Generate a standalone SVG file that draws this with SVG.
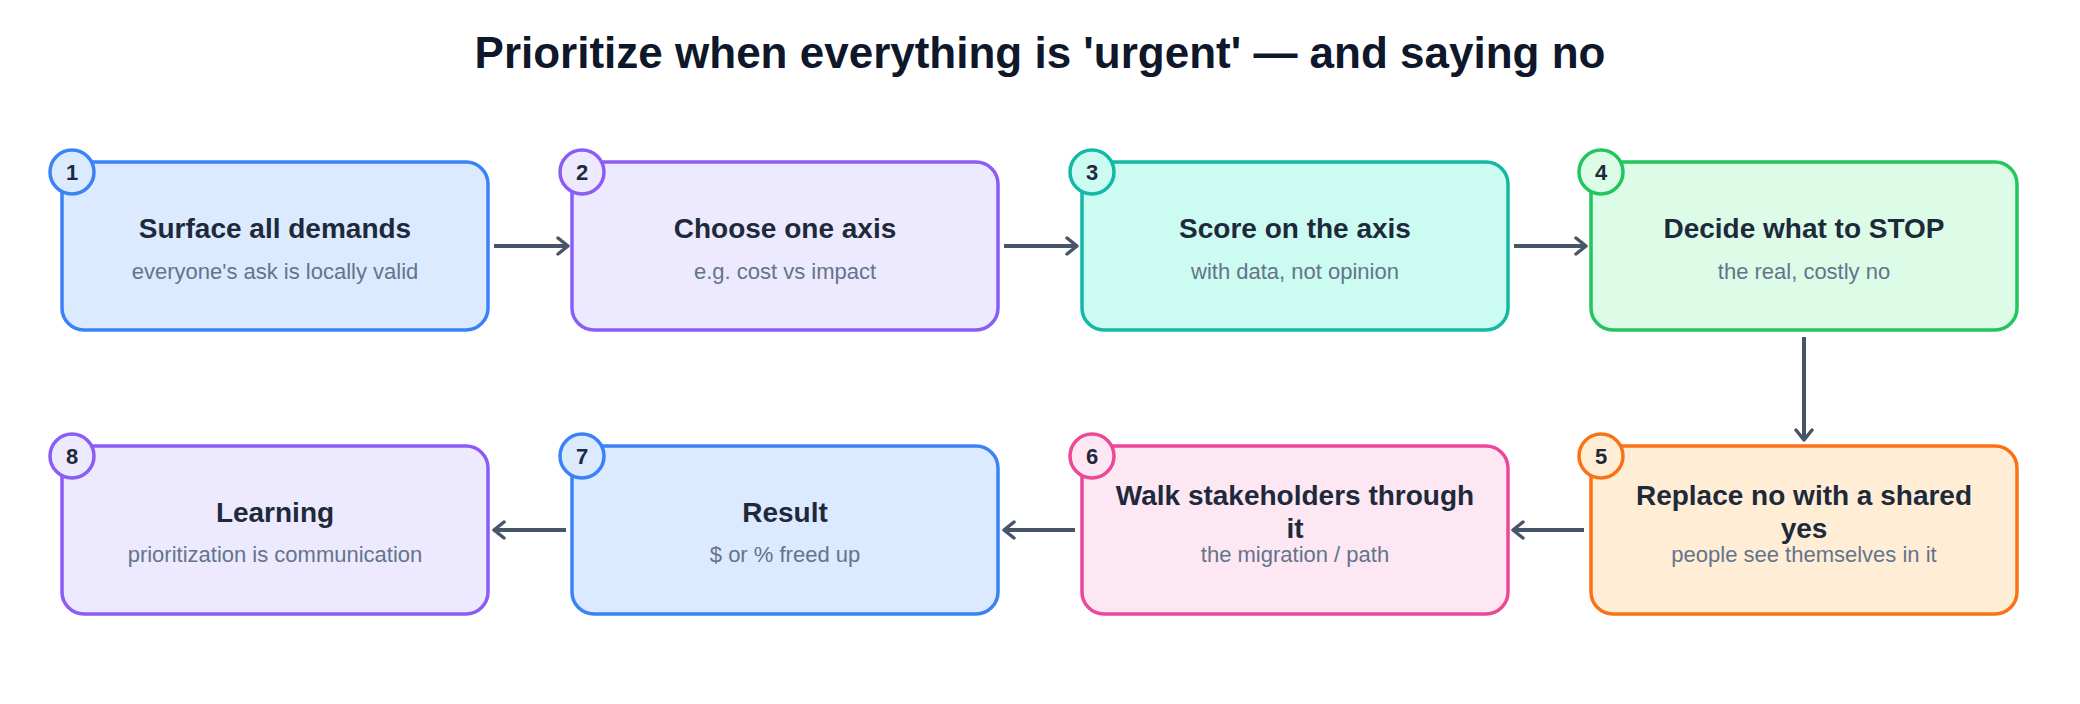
<svg xmlns="http://www.w3.org/2000/svg" width="2080" height="704" viewBox="0 0 2080 704">
<defs>
<marker id="ah" viewBox="0 0 16 20" refX="13" refY="10" markerWidth="16" markerHeight="20" markerUnits="userSpaceOnUse" orient="auto">
<path d="M3,2 L13,10 L3,18" fill="none" stroke="#475569" stroke-width="3.5" stroke-linecap="round" stroke-linejoin="round"/>
</marker>
<style>
text{font-family:"Liberation Sans",Arial,sans-serif;text-anchor:middle}
.ttl{font-size:44px;font-weight:bold;fill:#0f172a}
.h{font-size:28px;font-weight:bold;fill:#1e293b}
.s{font-size:22px;fill:#64748b}
.n{font-size:22px;font-weight:bold;fill:#1e293b}
.box{stroke-width:3.5}
.c line{stroke:#475569;stroke-width:4;marker-end:url(#ah)}
.blue{fill:#dbeafe;stroke:#3b82f6}.purple{fill:#ede9fe;stroke:#8b5cf6}.teal{fill:#ccfbf1;stroke:#14b8a6}
.green{fill:#dcfce7;stroke:#22c55e}.orange{fill:#ffedd5;stroke:#f97316}.pink{fill:#fce7f3;stroke:#ec4899}
</style>
</defs>
<rect width="2080" height="704" fill="#ffffff"/>
<text class="ttl" x="1040" y="68">Prioritize when everything is 'urgent' — and saying no</text>
<g class="c">
<line x1="494" y1="246" x2="568" y2="246"/>
<line x1="1004" y1="246" x2="1077" y2="246"/>
<line x1="1514" y1="246" x2="1586" y2="246"/>
<line x1="1804" y1="337" x2="1804" y2="440"/>
<line x1="1584" y1="530" x2="1513" y2="530"/>
<line x1="1075" y1="530" x2="1004" y2="530"/>
<line x1="566" y1="530" x2="494" y2="530"/>
</g>
<g id="n1"><rect class="box blue" x="62" y="162" width="426" height="168" rx="22"/><circle class="box blue" cx="72" cy="172" r="22"/><text class="n" x="72" y="180">1</text><text class="h" x="275" y="238">Surface all demands</text><text class="s" x="275" y="279">everyone's ask is locally valid</text></g>
<g id="n2"><rect class="box purple" x="572" y="162" width="426" height="168" rx="22"/><circle class="box purple" cx="582" cy="172" r="22"/><text class="n" x="582" y="180">2</text><text class="h" x="785" y="238">Choose one axis</text><text class="s" x="785" y="279">e.g. cost vs impact</text></g>
<g id="n3"><rect class="box teal" x="1082" y="162" width="426" height="168" rx="22"/><circle class="box teal" cx="1092" cy="172" r="22"/><text class="n" x="1092" y="180">3</text><text class="h" x="1295" y="238">Score on the axis</text><text class="s" x="1295" y="279">with data, not opinion</text></g>
<g id="n4"><rect class="box green" x="1591" y="162" width="426" height="168" rx="22"/><circle class="box green" cx="1601" cy="172" r="22"/><text class="n" x="1601" y="180">4</text><text class="h" x="1804" y="238">Decide what to STOP</text><text class="s" x="1804" y="279">the real, costly no</text></g>
<g id="n5"><rect class="box orange" x="1591" y="446" width="426" height="168" rx="22"/><circle class="box orange" cx="1601" cy="456" r="22"/><text class="n" x="1601" y="464">5</text><text class="h" x="1804" y="505">Replace no with a shared</text><text class="h" x="1804" y="538">yes</text><text class="s" x="1804" y="562">people see themselves in it</text></g>
<g id="n6"><rect class="box pink" x="1082" y="446" width="426" height="168" rx="22"/><circle class="box pink" cx="1092" cy="456" r="22"/><text class="n" x="1092" y="464">6</text><text class="h" x="1295" y="505">Walk stakeholders through</text><text class="h" x="1295" y="538">it</text><text class="s" x="1295" y="562">the migration / path</text></g>
<g id="n7"><rect class="box blue" x="572" y="446" width="426" height="168" rx="22"/><circle class="box blue" cx="582" cy="456" r="22"/><text class="n" x="582" y="464">7</text><text class="h" x="785" y="522">Result</text><text class="s" x="785" y="562">$ or % freed up</text></g>
<g id="n8"><rect class="box purple" x="62" y="446" width="426" height="168" rx="22"/><circle class="box purple" cx="72" cy="456" r="22"/><text class="n" x="72" y="464">8</text><text class="h" x="275" y="522">Learning</text><text class="s" x="275" y="562">prioritization is communication</text></g>
</svg>
